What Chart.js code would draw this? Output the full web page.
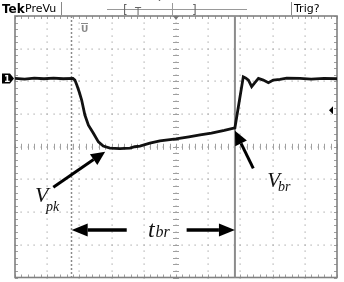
<!DOCTYPE html>
<html><head><meta charset="utf-8">
<script src="https://cdn.jsdelivr.net/npm/chart.js@4.4.1/dist/chart.umd.min.js"></script>
<style>html,body{margin:0;padding:0;background:#fff;}canvas{display:block;}</style>
</head><body>
<canvas id="c" width="344" height="282"></canvas>
<script>
// time in divisions (0..10), voltage in divisions (-4..4)
const timeDiv  = [0,0.3,0.6,0.9,1.2,1.5,1.8,1.86,1.92,2.0,2.07,2.17,2.28,2.43,2.59,2.74,2.95,3.1,3.26,3.4,3.57,3.72,3.88,4.19,4.5,5.0,5.4,5.75,6.1,6.5,6.83,7.09,7.17,7.25,7.35,7.45,7.56,7.71,7.87,8.02,8.23,8.44,8.85,9.2,9.6,10];
const voltsDiv = [2.09,2.07,2.10,2.08,2.10,2.08,2.09,2.04,1.89,1.66,1.43,0.97,0.66,0.42,0.15,0.02,-0.04,-0.05,-0.06,-0.05,-0.04,0.0,0.02,0.11,0.18,0.24,0.30,0.36,0.42,0.50,0.58,2.14,2.10,2.04,1.84,1.96,2.09,2.04,1.96,2.04,2.06,2.10,2.09,2.07,2.09,2.08];
const cursorsDiv = [1.74, 6.83];
const xDivs = 10, yDivs = 8;

const pts = timeDiv.map((t,i)=>({x:t,y:voltsDiv[i]}));

const scopePlugin = {
  id:'scope',
  beforeDatasetsDraw(chart){
    const {ctx, scales:{x,y}} = chart;
    const X=v=>x.getPixelForValue(v), Y=v=>y.getPixelForValue(v);
    ctx.save();
    ctx.fillStyle='#a8a8a8';
    // dotted grid
    for(let i=1;i<xDivs;i++){
      for(let s=-4;s<=4.001;s+=0.2){ ctx.fillRect(Math.round(X(i))-0.5,Math.round(Y(s))-0.5,1.2,1.2); }
    }
    for(let j=-3;j<=3;j++){
      for(let s=0;s<=10.001;s+=0.2){ ctx.fillRect(Math.round(X(s))-0.5,Math.round(Y(j))-0.5,1.2,1.2); }
    }
    // center ticks
    ctx.strokeStyle='#a0a0a0'; ctx.lineWidth=1;
    for(let s=-4;s<=4.001;s+=0.2){ ctx.beginPath(); ctx.moveTo(X(5)-3,Math.round(Y(s))+0.5); ctx.lineTo(X(5)+3,Math.round(Y(s))+0.5); ctx.stroke(); }
    for(let s=0;s<=10.001;s+=0.2){ ctx.beginPath(); ctx.moveTo(Math.round(X(s))+0.5,Y(0)-3); ctx.lineTo(Math.round(X(s))+0.5,Y(0)+3); ctx.stroke(); }
    // border ticks
    for(let s=-4;s<=4.001;s+=0.2){
      ctx.beginPath(); ctx.moveTo(X(0),Math.round(Y(s))+0.5); ctx.lineTo(X(0)+3,Math.round(Y(s))+0.5); ctx.stroke();
      ctx.beginPath(); ctx.moveTo(X(10),Math.round(Y(s))+0.5); ctx.lineTo(X(10)-3,Math.round(Y(s))+0.5); ctx.stroke();
    }
    for(let s=0;s<=10.001;s+=0.2){
      ctx.beginPath(); ctx.moveTo(Math.round(X(s))+0.5,Y(4)); ctx.lineTo(Math.round(X(s))+0.5,Y(4)+3); ctx.stroke();
      ctx.beginPath(); ctx.moveTo(Math.round(X(s))+0.5,Y(-4)); ctx.lineTo(Math.round(X(s))+0.5,Y(-4)-3); ctx.stroke();
    }
    // border
    ctx.strokeStyle='#808080'; ctx.lineWidth=1.6;
    ctx.strokeRect(X(0),Y(4),X(10)-X(0),Y(-4)-Y(4));
    // cursor 1 dotted dark
    ctx.strokeStyle='#8a8a8a'; ctx.lineWidth=1.5; ctx.setLineDash([2,2]);
    ctx.beginPath(); ctx.moveTo(Math.round(X(cursorsDiv[0]))+0.5,Y(4)); ctx.lineTo(Math.round(X(cursorsDiv[0]))+0.5,Y(-4)); ctx.stroke();
    ctx.setLineDash([]);
    // cursor 2 solid
    ctx.strokeStyle='#8c8c8c'; ctx.lineWidth=2;
    ctx.beginPath(); ctx.moveTo(X(cursorsDiv[1]),Y(4)); ctx.lineTo(X(cursorsDiv[1]),Y(-4)); ctx.stroke();
    ctx.restore();
  },
  afterDraw(chart){
    const {ctx, scales:{x,y}} = chart;
    const X=v=>x.getPixelForValue(v), Y=v=>y.getPixelForValue(v);
    ctx.save();
    // top bar
    ctx.fillStyle='#000'; ctx.textBaseline='alphabetic';
    ctx.font='bold 12px "DejaVu Sans", sans-serif'; ctx.fillText('Tek',2,13);
    ctx.font='11px "DejaVu Sans", sans-serif'; ctx.fillText('PreVu',25,12);
    ctx.fillText('Trig?',294,12);
    ctx.strokeStyle='#888'; ctx.lineWidth=1;
    ctx.beginPath(); ctx.moveTo(61.5,2); ctx.lineTo(61.5,15); ctx.stroke();
    ctx.beginPath(); ctx.moveTo(291.5,2); ctx.lineTo(291.5,15); ctx.stroke();
    ctx.strokeStyle='#999';
    ctx.beginPath(); ctx.moveTo(107,9.5); ctx.lineTo(247,9.5); ctx.stroke();
    ctx.beginPath(); ctx.moveTo(172.5,3); ctx.lineTo(172.5,15); ctx.stroke();
    ctx.fillStyle='#666'; ctx.font='12px "DejaVu Sans", sans-serif';
    ctx.fillText('[',123,14); ctx.fillText(']',192,14);
    ctx.font='10px "DejaVu Sans", sans-serif'; ctx.fillText('T',135,15);
    ctx.fillText('ˇ',157,8);
    // trigger position marker
    ctx.fillStyle='#777';
    ctx.beginPath(); ctx.moveTo(X(5)-3,Y(4)); ctx.lineTo(X(5)+3,Y(4)); ctx.lineTo(X(5),Y(4)+4); ctx.closePath(); ctx.fill();
    // U marker
    ctx.fillStyle='#888'; ctx.font='bold 9px "DejaVu Sans", sans-serif'; ctx.fillText('U',81,32);
    ctx.fillRect(81,23,7,1);
    // channel 1 marker
    const yb = Y(voltsDiv[0]);
    ctx.fillStyle='#000';
    ctx.beginPath(); ctx.moveTo(2,yb-5); ctx.lineTo(10,yb-5); ctx.lineTo(14,yb); ctx.lineTo(10,yb+5); ctx.lineTo(2,yb+5); ctx.closePath(); ctx.fill();
    ctx.fillStyle='#fff'; ctx.font='bold 9px "DejaVu Sans", sans-serif'; ctx.fillText('1',4,yb+3.5);
    // trigger level marker
    ctx.fillStyle='#000';
    const yt = Y(1.12);
    ctx.beginPath(); ctx.moveTo(X(10)-8,yt); ctx.lineTo(X(10)-4,yt-4); ctx.lineTo(X(10)-4,yt+4); ctx.closePath(); ctx.fill();
    // arrows
    function arrow(x1,y1,x2,y2,hl,hw,lw){
      const a=Math.atan2(y2-y1,x2-x1);
      const bx=x2-hl*Math.cos(a), by=y2-hl*Math.sin(a);
      ctx.strokeStyle='#000'; ctx.lineWidth=lw; ctx.lineCap='butt';
      ctx.beginPath(); ctx.moveTo(x1,y1); ctx.lineTo(bx,by); ctx.stroke();
      ctx.fillStyle='#000';
      ctx.beginPath(); ctx.moveTo(x2,y2);
      ctx.lineTo(bx+hw*Math.sin(a),by-hw*Math.cos(a));
      ctx.lineTo(bx-hw*Math.sin(a),by+hw*Math.cos(a));
      ctx.closePath(); ctx.fill();
    }
    arrow(X(1.19),Y(-1.24),X(2.80),Y(-0.15),14,6.5,3);
    arrow(X(7.40),Y(-0.66),X(6.83),Y(0.49),14,6.5,3);
    arrow(X(3.47),Y(-2.55),X(1.76),Y(-2.55),16,6.5,3.5);
    arrow(X(5.33),Y(-2.55),X(6.83),Y(-2.55),16,6.5,3.5);
    // labels
    ctx.fillStyle='#111';
    ctx.font='italic 22px "Liberation Serif", serif'; ctx.fillText('V',X(0.62),Y(-1.69));
    ctx.font='italic 14px "Liberation Serif", serif'; ctx.fillText('pk',X(0.96),Y(-1.96));
    ctx.font='italic 21px "Liberation Serif", serif'; ctx.fillText('V',X(7.83),Y(-1.23));
    ctx.font='italic 14px "Liberation Serif", serif'; ctx.fillText('br',X(8.17),Y(-1.35));
    ctx.font='italic 24px "Liberation Serif", serif'; ctx.fillText('t',X(4.13),Y(-2.75));
    ctx.font='italic 16px "Liberation Serif", serif'; ctx.fillText('br',X(4.36),Y(-2.77));
    ctx.restore();
  }
};

new Chart(document.getElementById('c'),{
  type:'line',
  data:{datasets:[{data:pts,borderColor:'#111',borderWidth:2.8,pointRadius:0,tension:0,fill:false}]},
  options:{
    responsive:false, animation:false, devicePixelRatio:1,
    layout:{padding:{left:15,right:7,top:16,bottom:4.5}},
    plugins:{legend:{display:false},tooltip:{enabled:false}},
    scales:{
      x:{type:'linear',min:0,max:xDivs,display:false},
      y:{type:'linear',min:-4,max:4,display:false}
    }
  },
  plugins:[scopePlugin]
});
</script>
</body></html>
